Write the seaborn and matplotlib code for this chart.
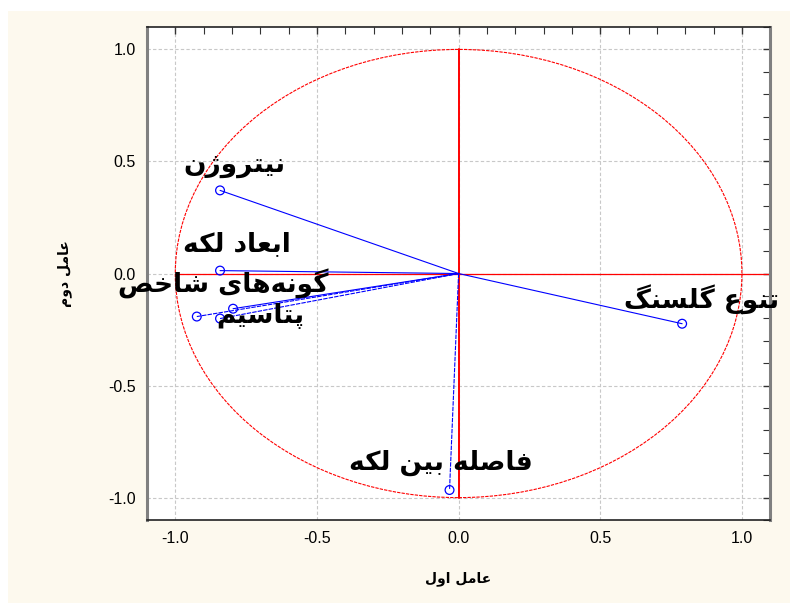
import numpy as np
import pandas as pd
import matplotlib
matplotlib.use('Agg')
import matplotlib.pyplot as plt
from matplotlib.patches import Circle, Rectangle
import seaborn as sns

# loadings on the first two factors
variables = ['نیتروژن', 'ابعاد لکه', 'گونه‌های شاخص', 'گونه‌ها', 'پتاسیم', 'تنوع گلسنگ', 'فاصله بین لکه']
factor1 = [-0.842, -0.842, -0.796, -0.924, -0.842, 0.789, -0.032]
factor2 = [0.371, 0.013, -0.157, -0.192, -0.201, -0.224, -0.966]
dashed = [False, False, False, True, True, False, True]

# where each name is written
label_names = ['نیتروژن', 'ابعاد لکه', 'گونه‌های شاخص', 'پتاسیم', 'تنوع گلسنگ', 'فاصله بین لکه']
label_x = [-0.793, -0.782, -0.832, -0.70, 0.584, -0.064]
label_y = [0.483, 0.13, -0.045, -0.19, -0.112, -0.846]
label_ha = ['center', 'center', 'center', 'center', 'left', 'center']

ticks = [-1.0, -0.5, 0.0, 0.5, 1.0]
xlabel = 'عامل اول'
ylabel = 'عامل دوم'

# minimal arabic shaping, matplotlib does not join letters itself
FORMS = {
    'ا': ('\uFE8D', '\uFE8E', None, None),
    'ب': ('\uFE8F', '\uFE90', '\uFE91', '\uFE92'),
    'پ': ('\uFB56', '\uFB57', '\uFB58', '\uFB59'),
    'ت': ('\uFE95', '\uFE96', '\uFE97', '\uFE98'),
    'خ': ('\uFEA5', '\uFEA6', '\uFEA7', '\uFEA8'),
    'د': ('\uFEA9', '\uFEAA', None, None),
    'ر': ('\uFEAD', '\uFEAE', None, None),
    'ژ': ('\uFB8A', '\uFB8B', None, None),
    'س': ('\uFEB1', '\uFEB2', '\uFEB3', '\uFEB4'),
    'ش': ('\uFEB5', '\uFEB6', '\uFEB7', '\uFEB8'),
    'ص': ('\uFEB9', '\uFEBA', '\uFEBB', '\uFEBC'),
    'ع': ('\uFEC9', '\uFECA', '\uFECB', '\uFECC'),
    'ف': ('\uFED1', '\uFED2', '\uFED3', '\uFED4'),
    'ک': ('\uFB8E', '\uFB8F', '\uFB90', '\uFB91'),
    'گ': ('\uFB92', '\uFB93', '\uFB94', '\uFB95'),
    'ل': ('\uFEDD', '\uFEDE', '\uFEDF', '\uFEE0'),
    'م': ('\uFEE1', '\uFEE2', '\uFEE3', '\uFEE4'),
    'ن': ('\uFEE5', '\uFEE6', '\uFEE7', '\uFEE8'),
    'ه': ('\uFEE9', '\uFEEA', '\uFEEB', '\uFEEC'),
    'و': ('\uFEED', '\uFEEE', None, None),
    'ی': ('\uFBFC', '\uFBFD', '\uFBFE', '\uFBFF'),
}


def fa(text):
    out = []
    for i, c in enumerate(text):
        if c not in FORMS:
            if c != '\u200c':
                out.append(c)
            continue
        prev = text[i - 1] if i > 0 else None
        nxt = text[i + 1] if i + 1 < len(text) else None
        iso, fin, ini, med = FORMS[c]
        jp = prev in FORMS and FORMS[prev][2] is not None
        jn = nxt in FORMS and ini is not None
        if jp and jn:
            out.append(med)
        elif jp:
            out.append(fin)
        elif jn:
            out.append(ini)
        else:
            out.append(iso)
    return ''.join(out)[::-1]


sns.set_style('white')
plt.rcParams['font.family'] = ['Liberation Sans', 'DejaVu Sans']

df = pd.DataFrame({'var': variables, 'f1': factor1, 'f2': factor2, 'dashed': dashed})

fig = plt.figure(figsize=(7.9, 6.03), dpi=100, facecolor='white')
fig.patches.append(Rectangle((8 / 790, 0), 1, 1 - 11 / 603, transform=fig.transFigure,
                             facecolor='#fdf9ee', edgecolor='none', zorder=-10))
ax = fig.add_axes([0.186, 0.1376, 0.789, 0.8176])
ax.set_facecolor('white')

ax.set_xlim(-1.1, 1.1)
ax.set_ylim(-1.1, 1.1)

# unit circle and axes through the origin
ax.add_patch(Circle((0, 0), 1.0, fill=False, edgecolor='red', lw=0.8, ls=(0, (3, 1)), zorder=2))
ax.plot([0, 0], [-1, 1], color='red', lw=1.4, zorder=2)
ax.plot([-1, 1.1], [0, 0], color='red', lw=0.9, zorder=2)

for _, r in df.iterrows():
    ax.plot([0, r.f1], [0, r.f2], color='blue', lw=0.8,
            ls=(0, (4, 1)) if r.dashed else '-', zorder=3)
sns.scatterplot(data=df, x='f1', y='f2', ax=ax, marker='o', s=40,
                facecolor='none', edgecolor='blue', linewidth=0.9, zorder=4, legend=False)

for name, x, y, ha in zip(label_names, label_x, label_y, label_ha):
    ax.text(x, y, fa(name), ha=ha, va='center', fontsize=19, fontweight='bold',
            color='black', family=['DejaVu Sans'], clip_on=False, zorder=5)

ax.set_xticks(ticks)
ax.set_yticks(ticks)
ax.set_xticklabels([f'{t:.1f}' for t in ticks])
ax.set_yticklabels([f'{t:.1f}' for t in ticks])
ax.xaxis.set_minor_locator(matplotlib.ticker.MultipleLocator(0.1))
ax.yaxis.set_minor_locator(matplotlib.ticker.MultipleLocator(0.1))
ax.tick_params(which='both', direction='in', top=True, right=True, labelsize=11.5,
               color='#333333', labelcolor='black', pad=8)
ax.tick_params(which='major', length=5, width=1)
ax.tick_params(which='minor', length=5, width=0.8)
ax.grid(True, which='major', color='#c8c8c8', ls=(0, (3, 2)), lw=0.8)
ax.set_axisbelow(True)

for side in ['left', 'right']:
    ax.spines[side].set_color('#808080')
    ax.spines[side].set_linewidth(2.2)
for side in ['top', 'bottom']:
    ax.spines[side].set_color('#222222')
    ax.spines[side].set_linewidth(1.2)

ax.set_xlabel(fa(xlabel), fontsize=10, fontweight='bold', color='black',
              family=['DejaVu Sans'], labelpad=18)
ax.set_ylabel(fa(ylabel), fontsize=10, fontweight='bold', color='black',
              family=['DejaVu Sans'], labelpad=26)

fig.savefig('out.png', dpi=100, facecolor='white')
